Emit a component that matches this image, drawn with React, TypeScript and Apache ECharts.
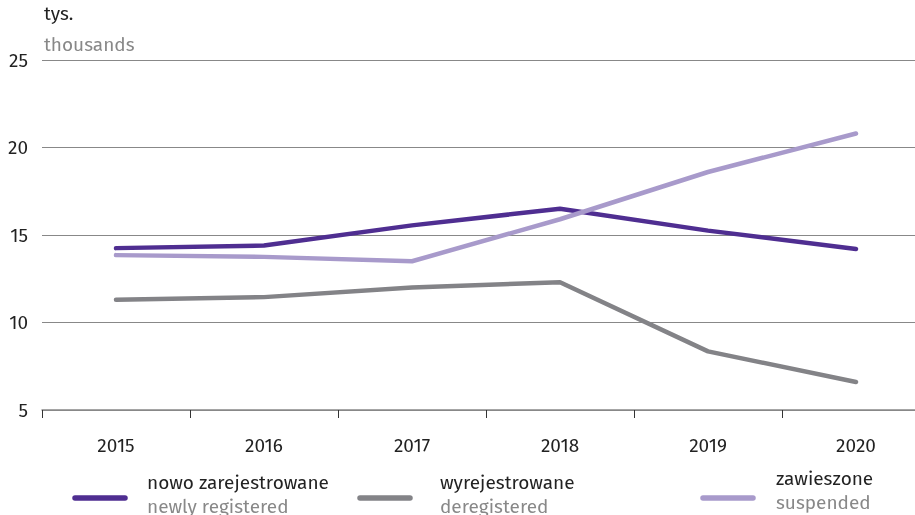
import React, { useEffect, useRef } from "react";
import * as echarts from "echarts";

const years = ["2015", "2016", "2017", "2018", "2019", "2020"];
const newlyRegistered = [14.25, 14.4, 15.55, 16.5, 15.25, 14.2];
const deregistered = [11.3, 11.45, 12.0, 12.3, 8.35, 6.6];
const suspended = [13.85, 13.75, 13.5, 15.9, 18.6, 20.8];
const yTicks = [5, 10, 15, 20, 25];

const C_NEW = "#4f2e91";
const C_DEREG = "#838387";
const C_SUSP = "#a89acb";
const FONT = "'Fira Sans', 'Noto Sans', 'Open Sans', sans-serif";

export default function App() {
  const ref = useRef<HTMLDivElement>(null);
  useEffect(() => {
    if (!ref.current) return;
    const chart = echarts.init(ref.current, undefined, { renderer: "svg" });
    const legendItems = [
      { color: C_NEW, pl: "nowo zarejestrowane", en: "newly registered", x: 73, tx: 147, ty: 482 },
      { color: C_DEREG, pl: "wyrejestrowane", en: "deregistered", x: 358, tx: 440, ty: 482 },
      { color: C_SUSP, pl: "zawieszone", en: "suspended", x: 701, tx: 776, ty: 478 },
    ];
    const graphic: any[] = [
      { type: "text", x: 44, y: 13, style: { text: "tys.", fill: "#222", font: `19px ${FONT}`, verticalAlign: "middle" } },
      { type: "text", x: 44, y: 44, style: { text: "thousands", fill: "#888", font: `19px ${FONT}`, verticalAlign: "middle" } },
    ];
    legendItems.forEach((it) => {
      graphic.push({
        type: "line",
        shape: { x1: it.x + 2, y1: 498, x2: it.x + 52, y2: 498 },
        style: { stroke: it.color, lineWidth: 5.5, lineCap: "round" },
      });
      graphic.push({
        type: "text",
        x: it.tx,
        y: it.ty,
        style: { text: it.pl, fill: "#222", font: `19px ${FONT}`, verticalAlign: "middle" },
      });
      graphic.push({
        type: "text",
        x: it.tx,
        y: it.ty + 24,
        style: { text: it.en, fill: "#888", font: `19px ${FONT}`, verticalAlign: "middle" },
      });
    });
    const mkSeries = (name: string, data: number[], color: string) => ({
      name,
      type: "line",
      data,
      symbol: "none",
      lineStyle: { color, width: 4.5, cap: "round", join: "round" },
      itemStyle: { color },
    });
    chart.setOption({
      animation: false,
      grid: { left: 42, right: 0, top: 60, bottom: 105 },
      xAxis: {
        type: "category",
        data: years,
        boundaryGap: true,
        axisLine: { lineStyle: { color: "#888", width: 1.5 } },
        axisTick: { show: true, length: 8, lineStyle: { color: "#333" } },
        axisLabel: { color: "#222", fontSize: 19, margin: 26, fontFamily: FONT },
      },
      yAxis: {
        type: "value",
        min: yTicks[0],
        max: yTicks[yTicks.length - 1],
        interval: 5,
        axisLine: { show: false },
        axisTick: { show: false },
        axisLabel: { color: "#222", fontSize: 19, margin: 14, fontFamily: FONT },
        splitLine: { lineStyle: { color: "#888", width: 1.2 } },
      },
      series: [
        mkSeries("nowo zarejestrowane", newlyRegistered, C_NEW),
        mkSeries("wyrejestrowane", deregistered, C_DEREG),
        mkSeries("zawieszone", suspended, C_SUSP),
      ],
      graphic,
    });
    return () => chart.dispose();
  }, []);
  return (
    <div style={{ position: "fixed", left: 0, top: 0, width: 915, height: 515, overflow: "hidden" }}>
      <div ref={ref} style={{ width: 930, height: 515 }} />
    </div>
  );
}
